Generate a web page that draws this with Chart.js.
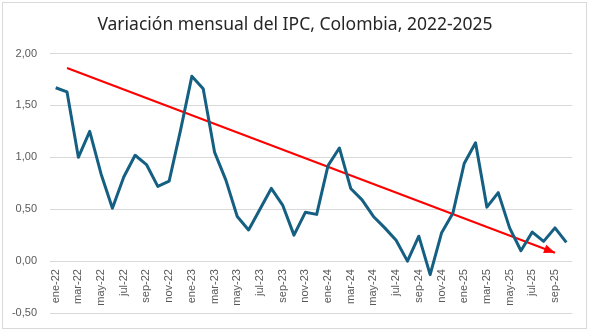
<!DOCTYPE html>
<html lang="es">
<head>
<meta charset="utf-8">
<title>Variación mensual del IPC</title>
<script src="https://cdn.jsdelivr.net/npm/chart.js@4.4.1/dist/chart.umd.min.js"></script>
<style>
  html, body { margin: 0; padding: 0; background: #fff; }
  #wrap { position: relative; width: 590px; height: 334px; }
  #marco {
    position: absolute; left: 2px; top: 2px; width: 583px; height: 325px;
    border: 1px solid #d9d9d9; pointer-events: none;
  }
</style>
</head>
<body>
<div id="wrap">
  <canvas id="grafico" width="590" height="334"></canvas>
  <div id="marco"></div>
</div>
<script>
// Meses (ene-22 ... oct-25)
const meses = ['ene', 'feb', 'mar', 'abr', 'may', 'jun', 'jul', 'ago', 'sep', 'oct', 'nov', 'dic'];
const anios = ['22', '23', '24', '25'];
const etiquetas = [];
anios.forEach(a => meses.forEach(m => etiquetas.push(m + '-' + a)));
etiquetas.length = 46;

// Variación mensual del IPC (%)
const ipc2022 = [1.67, 1.63, 1.00, 1.25, 0.84, 0.51, 0.81, 1.02, 0.93, 0.72, 0.77, 1.26];
const ipc2023 = [1.78, 1.66, 1.05, 0.78, 0.43, 0.30, 0.50, 0.70, 0.54, 0.25, 0.47, 0.45];
const ipc2024 = [0.92, 1.09, 0.70, 0.59, 0.43, 0.32, 0.20, 0.00, 0.24, -0.13, 0.27, 0.46];
const ipc2025 = [0.94, 1.14, 0.52, 0.66, 0.32, 0.10, 0.28, 0.19, 0.32, 0.18];
const ipc = [...ipc2022, ...ipc2023, ...ipc2024, ...ipc2025];

// Flecha de tendencia: de feb-22 a sep-25
const tendenciaInicio = { idx: 1, valor: 1.86 };
const tendenciaFin = { idx: 44, valor: 0.08 };
const tendencia = etiquetas.map((_, i) =>
  i === tendenciaInicio.idx ? tendenciaInicio.valor :
  i === tendenciaFin.idx ? tendenciaFin.valor : null);

const ticksY = [-0.5, 0, 0.5, 1, 1.5, 2];

const fmt = v => v.toFixed(2).replace('.', ',');

// Punta de flecha al final de la línea roja
const puntaFlecha = {
  id: 'puntaFlecha',
  afterDatasetsDraw(chart) {
    const pts = chart.getDatasetMeta(1).data;
    const a = pts[tendenciaInicio.idx], b = pts[tendenciaFin.idx];
    const ang = Math.atan2(b.y - a.y, b.x - a.x);
    const len = 11, half = 4.5;
    const ctx = chart.ctx;
    ctx.save();
    ctx.translate(b.x, b.y);
    ctx.rotate(ang);
    ctx.beginPath();
    ctx.moveTo(0, 0);
    ctx.lineTo(-len, -half);
    ctx.lineTo(-len, half);
    ctx.closePath();
    ctx.fillStyle = '#ff0000';
    ctx.fill();
    ctx.restore();
  }
};

new Chart(document.getElementById('grafico'), {
  type: 'line',
  data: {
    labels: etiquetas,
    datasets: [{
      data: ipc,
      borderColor: '#156082',
      borderWidth: 3,
      pointRadius: 0,
      tension: 0,
      borderJoinStyle: 'round'
    }, {
      data: tendencia,
      borderColor: '#ff0000',
      borderWidth: 2,
      pointRadius: 0,
      spanGaps: true,
      tension: 0
    }]
  },
  options: {
    responsive: false,
    animation: false,
    layout: { padding: { top: 0, right: 0, bottom: 21, left: 0 } },
    plugins: {
      legend: { display: false },
      tooltip: { enabled: false },
      title: {
        display: true,
        text: 'Variación mensual del IPC, Colombia, 2022-2025',
        color: '#262626',
        font: { family: 'Noto Sans', size: 17.5, weight: 'normal', lineHeight: 1.2 },
        padding: { top: 15, bottom: 17.5 }
      }
    },
    scales: {
      x: {
        position: { y: 0 },
        offset: true,
        grid: { display: false, drawTicks: false },
        border: { display: false },
        ticks: {
          autoSkip: false,
          minRotation: 90,
          maxRotation: 90,
          padding: 8,
          color: '#595959',
          font: { family: 'Liberation Sans', size: 11 },
          callback: (v, i) => i % 2 === 0 ? etiquetas[i] : ''
        }
      },
      y: {
        min: -0.5,
        max: 2,
        afterFit: s => { s.width = 50; },
        afterBuildTicks: s => { s.ticks = ticksY.map(v => ({ value: v })); },
        grid: { color: '#d9d9d9', lineWidth: 1, drawTicks: false },
        border: { display: false },
        ticks: {
          padding: 13,
          color: '#595959',
          font: { family: 'Liberation Sans', size: 11 },
          callback: v => fmt(v)
        }
      },
      // margen derecho del área de trazado (eje vacío)
      margen: {
        position: 'right',
        afterFit: s => { s.width = 18; },
        grid: { display: false, drawTicks: false },
        border: { display: false },
        ticks: { display: false }
      }
    }
  },
  plugins: [puntaFlecha]
});
</script>
</body>
</html>
